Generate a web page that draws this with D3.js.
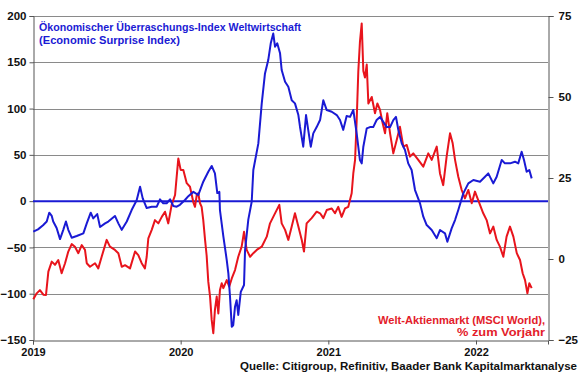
<!DOCTYPE html>
<html>
<head>
<meta charset="utf-8">
<script src="https://cdn.jsdelivr.net/npm/d3@7"></script>
<style>
  html, body { margin: 0; padding: 0; background: #fff; }
  svg { display: block; font-family: "Liberation Sans", Arial, sans-serif; }
</style>
</head>
<body>
<svg id="chart" width="580" height="375"></svg>
<script>
// ---- data (time in years since 2019-01-01) ----
const yearTicks = [2019, 2020, 2021, 2022];
const leftTicks = [-150, -100, -50, 0, 50, 100, 150, 200];
const rightTicks = [-25, 0, 25, 50, 75];

const surpriseT = [0.002,0.034,0.068,0.093,0.110,0.127,0.137,0.160,0.183,0.205,0.223,0.239,0.262,0.296,0.341,0.364,0.391,0.408,0.435,0.454,0.488,0.510,0.555,0.578,0.601,0.635,0.668,0.702,0.725,0.743,0.770,0.804,0.838,0.860,0.882,0.905,0.928,0.950,0.973,0.995,1.029,1.052,1.086,1.119,1.153,1.187,1.210,1.232,1.248,1.262,1.266,1.289,1.312,1.323,1.334,1.346,1.356,1.368,1.379,1.390,1.407,1.429,1.436,1.458,1.481,1.492,1.526,1.549,1.571,1.593,1.610,1.627,1.639,1.654,1.673,1.684,1.707,1.729,1.752,1.774,1.797,1.808,1.830,1.849,1.864,1.881,1.898,1.921,1.944,1.966,1.989,2.023,2.057,2.079,2.101,2.124,2.147,2.169,2.192,2.214,2.226,2.237,2.260,2.282,2.304,2.327,2.350,2.395,2.418,2.440,2.458,2.474,2.497,2.519,2.541,2.564,2.587,2.621,2.643,2.666,2.700,2.734,2.756,2.790,2.806,2.835,2.858,2.880,2.914,2.948,2.982,3.027,3.061,3.083,3.117,3.140,3.174,3.196,3.230,3.264,3.286,3.309,3.325,3.343,3.361,3.377];
const surpriseValues = [-33,-30.5,-26,-22,-12.5,-16,-22,-29,-41,-31,-22,-31,-39.5,-37.7,-34.8,-24,-12.5,-18.6,-14,-28,-24,-22,-16,-24,-31,-22,-9.6,1,15.6,3,-7.5,-6,-6,2,-2.4,-2.4,2,-5.3,-6,-4,1.2,5.4,10,6.6,21,31.8,38,30,8.7,10,-9.6,-38,-63.6,-78,-103,-135.6,-134,-114,-107,-123,-98,-90.6,-52.8,-20,-0.6,33.6,62.4,105.6,138,152.4,170.5,181,166.8,170.5,159.7,141.6,129,123.6,109,105.6,93,80.4,58.8,93,76.8,58.8,73.2,80,87.6,109,98.4,96.6,93,87.6,77,92,91,98.5,73,44.4,40.8,58.8,78.6,80,80,87.6,91,80,80,87.6,91,76.8,62.4,55.2,40.8,33.6,12,-2.4,-16.8,-25.8,-31.2,-40,-31.2,-34.8,-43.8,-29.4,-20.4,-9.6,8.4,19.2,22.8,21,26.4,30,19.2,26.4,44.4,40.8,40.8,42.6,40.8,53.4,44.4,31.8,33.6,24.6];

const msciT = [0.002,0.025,0.047,0.070,0.088,0.104,0.127,0.149,0.171,0.194,0.217,0.239,0.262,0.284,0.307,0.330,0.352,0.364,0.386,0.420,0.442,0.465,0.499,0.521,0.555,0.578,0.601,0.623,0.657,0.691,0.713,0.736,0.758,0.770,0.781,0.804,0.826,0.849,0.872,0.894,0.916,0.939,0.962,0.973,0.984,1.000,1.018,1.041,1.063,1.086,1.097,1.109,1.119,1.131,1.142,1.153,1.165,1.176,1.187,1.199,1.210,1.221,1.232,1.244,1.255,1.266,1.278,1.289,1.312,1.329,1.346,1.368,1.390,1.413,1.429,1.447,1.470,1.492,1.515,1.549,1.583,1.605,1.627,1.650,1.668,1.684,1.707,1.729,1.752,1.774,1.797,1.820,1.835,1.853,1.887,1.921,1.944,1.966,1.989,2.023,2.045,2.067,2.090,2.113,2.135,2.158,2.169,2.181,2.192,2.203,2.214,2.226,2.237,2.248,2.260,2.271,2.294,2.316,2.332,2.350,2.368,2.384,2.399,2.418,2.440,2.463,2.485,2.508,2.531,2.553,2.575,2.609,2.643,2.677,2.700,2.734,2.756,2.778,2.801,2.824,2.842,2.858,2.880,2.903,2.925,2.948,2.971,2.993,3.027,3.049,3.072,3.095,3.117,3.140,3.162,3.185,3.207,3.230,3.253,3.276,3.298,3.316,3.332,3.348,3.361,3.377];
const msciValues = [-12.4,-10.6,-9.6,-11,-11.1,-3.9,-0.8,-1.8,-0.3,-4.4,-1.3,2.3,4.6,3.8,1.8,4.3,2.8,-1.3,-2.4,-1.3,-2.9,0.7,5.9,3.8,2.8,1.8,-2.4,-1.9,-2.9,2.3,1.2,-1.3,-2.9,0.7,6.4,9,12,11,13,14.6,11,16.7,19.75,25.4,31,27.5,27.5,23.4,22.3,17.5,16.1,19.75,20.3,17.2,16.1,12,6,1,-7,-11.6,-18.8,-22.9,-15.7,-11.6,-16.8,-9.6,-7.5,-9,-6.5,-8.5,-6,-3.4,0.7,3.8,8.4,2.8,0.7,1.8,2.8,3.8,6.9,11,13,15.1,16.7,11,9,5.9,10,14.1,10,5.9,2.3,11,12.6,14.6,14.1,12.6,15.1,15.6,14.1,16.1,13,15.6,16.1,20.3,26.4,30.6,42.9,58,67,72.7,58,56,60,48,50,45,48,46,41.9,38.8,45,38.8,32.6,36.7,40.8,34.7,35.2,31.6,32.6,30.6,28.5,32.6,30.6,34.7,26.4,22.8,31.6,38.8,35.7,30.6,25.4,21.3,18.7,21.3,17.2,20.8,16.7,14.1,12,7.9,10,5.9,3.8,0.7,6.9,10,6.9,1.8,-0.3,-4.4,-6.5,-10.6,-7.5,-9];

const titleLines = ["Ökonomischer Überraschungs-Index Weltwirtschaft", "(Economic Surprise Index)"];
const msciLabel = ["Welt-Aktienmarkt (MSCI World),", "% zum Vorjahr"];
const sourceText = "Quelle: Citigroup, Refinitiv, Baader Bank Kapitalmarktanalyse";

// ---- layout ----
const BLUE = "#1a1ad4", RED = "#e8141c";
const L = 33, R = 548, T = 16, B = 340;
const FONT = "'Liberation Sans', Arial, sans-serif";
const svg = d3.select("#chart");

const x = d3.scaleLinear().domain([2019, 2019 + (R - L) / 147.67]).range([L, R]);
const yL = d3.scaleLinear().domain([-150, 200]).range([B, T]);
const yR = d3.scaleLinear().domain([-25, 75]).range([B, T]);

// gridlines
svg.append("g").selectAll("line")
  .data(leftTicks.filter(d => d !== 0 && d !== -150))
  .join("line")
  .attr("x1", L).attr("x2", d => d === 200 ? R + 5 : R)
  .attr("y1", d => Math.round(yL(d)) + 0.5).attr("y2", d => Math.round(yL(d)) + 0.5)
  .attr("stroke", "#8a8a8a").attr("stroke-width", 1);

// axes
const fontStyle = (sel, fs) => sel.attr("font-family", FONT)
  .attr("font-weight", "bold").attr("font-size", fs).attr("fill", "#111");

const axL = svg.append("g").attr("transform", `translate(${L + 0.5},0)`)
  .call(d3.axisLeft(yL).tickValues(leftTicks).tickSize(4).tickPadding(4).tickFormat(d3.format("d")));
const axR = svg.append("g").attr("transform", `translate(${R + 0.5},0)`)
  .call(d3.axisRight(yR).tickValues(rightTicks).tickSize(5).tickPadding(5).tickFormat(d3.format("d")));
const axB = svg.append("g").attr("transform", `translate(0,${B + 0.5})`)
  .call(d3.axisBottom(x).tickValues(yearTicks).tickSize(4).tickPadding(4).tickFormat(d3.format("d")));
[axL, axR, axB].forEach(g => {
  g.select(".domain").attr("stroke", "#555");
  g.selectAll(".tick line").attr("stroke", "#555");
});
axL.selectAll("text").call(fontStyle, 11.5);
axR.selectAll("text").call(fontStyle, 11.5);
axB.selectAll("text").call(fontStyle, 11);
axL.selectAll(".tick text").attr("x", -7);

// zero line of surprise index
svg.append("line")
  .attr("x1", L).attr("x2", R)
  .attr("y1", yL(0)).attr("y2", yL(0))
  .attr("stroke", BLUE).attr("stroke-width", 2);

// series
const surprise = surpriseT.map((t, i) => ({ t: 2019 + t, v: surpriseValues[i] }));
const msci = msciT.map((t, i) => ({ t: 2019 + t, v: msciValues[i] }));

svg.append("path").datum(msci)
  .attr("fill", "none").attr("stroke", RED).attr("stroke-width", 2).attr("stroke-linejoin", "round")
  .attr("d", d3.line().x(d => x(d.t)).y(d => yR(d.v)));
svg.append("path").datum(surprise)
  .attr("fill", "none").attr("stroke", BLUE).attr("stroke-width", 2).attr("stroke-linejoin", "round")
  .attr("d", d3.line().x(d => x(d.t)).y(d => yL(d.v)));

// titles
const titleWidths = [262, 141];
svg.append("g").selectAll("text").data(titleLines).join("text")
  .attr("x", 39).attr("y", (d, i) => 31 + i * 13)
  .attr("font-family", FONT).attr("font-weight", "bold")
  .attr("font-size", 11).attr("textLength", (d, i) => titleWidths[i]).attr("lengthAdjust", "spacingAndGlyphs")
  .attr("fill", BLUE).text(d => d);

const msciWidths = [167, 88];
svg.append("g").selectAll("text").data(msciLabel).join("text")
  .attr("x", (d, i) => 545 - msciWidths[i]).attr("y", (d, i) => 324 + i * 12)
  .attr("font-family", FONT).attr("font-weight", "bold")
  .attr("font-size", 11).attr("textLength", (d, i) => msciWidths[i]).attr("lengthAdjust", "spacingAndGlyphs")
  .attr("fill", "#e3202a").text(d => d);

svg.append("text").attr("x", 240).attr("y", 370)
  .attr("font-family", FONT).attr("font-weight", "bold")
  .attr("font-size", 11.5).attr("textLength", 337).attr("lengthAdjust", "spacingAndGlyphs")
  .attr("fill", "#111").text(sourceText);
</script>
</body>
</html>
